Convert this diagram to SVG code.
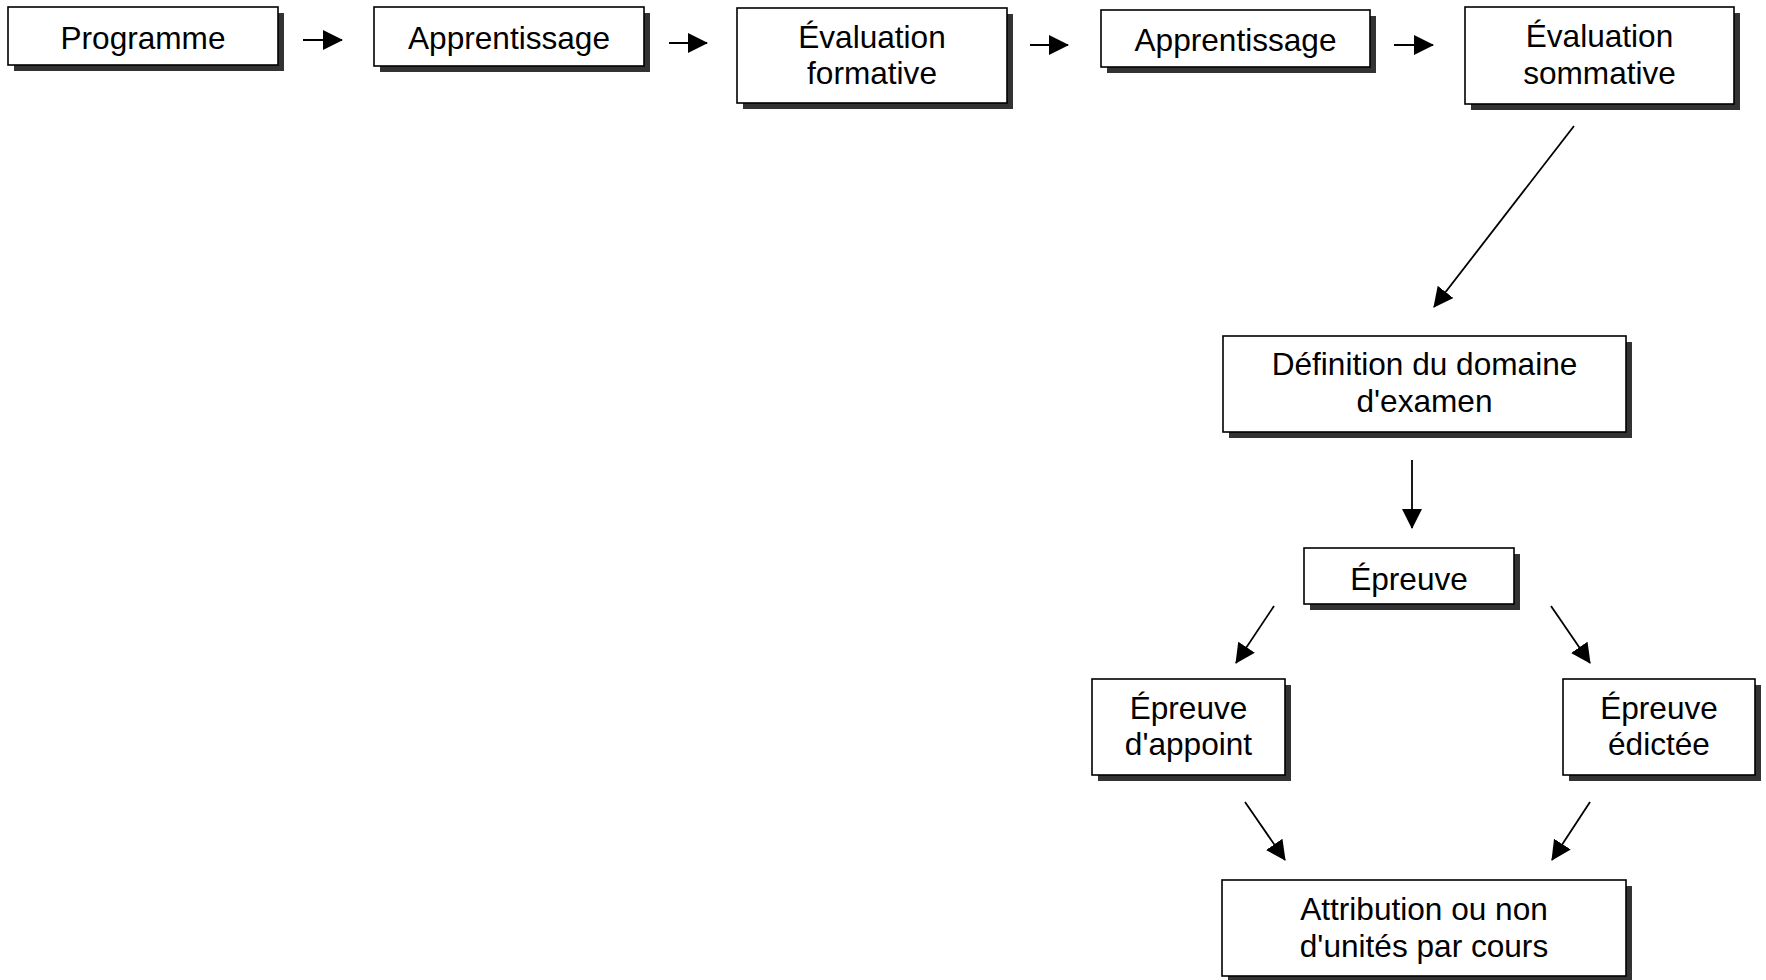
<svg xmlns="http://www.w3.org/2000/svg" width="1766" height="980" viewBox="0 0 1766 980">
<defs>
<style>
.box{fill:#fff;stroke:#000;stroke-width:1.6}
.sh{fill:#333}
.t{font-family:"Liberation Sans",Arial,sans-serif;font-size:31.6px;fill:#000;text-anchor:middle}
.c{stroke:#000;stroke-width:1.8;fill:none;marker-end:url(#ah)}
</style>
<marker id="ah" markerUnits="userSpaceOnUse" markerWidth="22" markerHeight="22" refX="19" refY="10" orient="auto">
<path d="M0,0 L20,10 L0,20 Z" fill="#000"/>
</marker>
</defs>
<rect width="1766" height="980" fill="#fff"/>
<g id="connectors">
<path class="c" d="M303,40 L342,40"/>
<path class="c" d="M669,43 L707,43"/>
<path class="c" d="M1030,45 L1068,45"/>
<path class="c" d="M1394,45 L1433,45"/>
<path class="c" d="M1574,126 L1434,307"/>
<path class="c" d="M1412,460 L1412,528"/>
<path class="c" d="M1274,606 L1236,663"/>
<path class="c" d="M1551,606 L1590,663"/>
<path class="c" d="M1245,802 L1285,860"/>
<path class="c" d="M1590,802 L1552,860"/>
</g>
<g id="n1"><rect class="sh" x="14" y="13" width="270" height="58"/><rect class="box" x="8" y="7" width="270" height="58"/><text class="t" x="143" y="49">Programme</text></g>
<g id="n2"><rect class="sh" x="380" y="13" width="270" height="59"/><rect class="box" x="374" y="7" width="270" height="59"/><text class="t" x="509" y="49">Apprentissage</text></g>
<g id="n3"><rect class="sh" x="743" y="14" width="270" height="95"/><rect class="box" x="737" y="8" width="270" height="95"/><text class="t" x="872" y="48">Évaluation</text><text class="t" x="872" y="84">formative</text></g>
<g id="n4"><rect class="sh" x="1107" y="16" width="269" height="57"/><rect class="box" x="1101" y="10" width="269" height="57"/><text class="t" x="1235.5" y="51">Apprentissage</text></g>
<g id="n5"><rect class="sh" x="1471" y="13" width="269" height="97"/><rect class="box" x="1465" y="7" width="269" height="97"/><text class="t" x="1599.5" y="47">Évaluation</text><text class="t" x="1599.5" y="84">sommative</text></g>
<g id="n6"><rect class="sh" x="1229" y="342" width="403" height="96"/><rect class="box" x="1223" y="336" width="403" height="96"/><text class="t" x="1424.5" y="375">Définition du domaine</text><text class="t" x="1424.5" y="412">d'examen</text></g>
<g id="n7"><rect class="sh" x="1310" y="554" width="210" height="56"/><rect class="box" x="1304" y="548" width="210" height="56"/><text class="t" x="1409" y="590">Épreuve</text></g>
<g id="n8"><rect class="sh" x="1098" y="685" width="193" height="96"/><rect class="box" x="1092" y="679" width="193" height="96"/><text class="t" x="1188.5" y="719">Épreuve</text><text class="t" x="1188.5" y="755">d'appoint</text></g>
<g id="n9"><rect class="sh" x="1569" y="685" width="192" height="96"/><rect class="box" x="1563" y="679" width="192" height="96"/><text class="t" x="1659" y="719">Épreuve</text><text class="t" x="1659" y="755">édictée</text></g>
<g id="n10"><rect class="sh" x="1228" y="886" width="404" height="96"/><rect class="box" x="1222" y="880" width="404" height="96"/><text class="t" x="1424" y="920">Attribution ou non</text><text class="t" x="1424" y="957">d'unités par cours</text></g>
</svg>
